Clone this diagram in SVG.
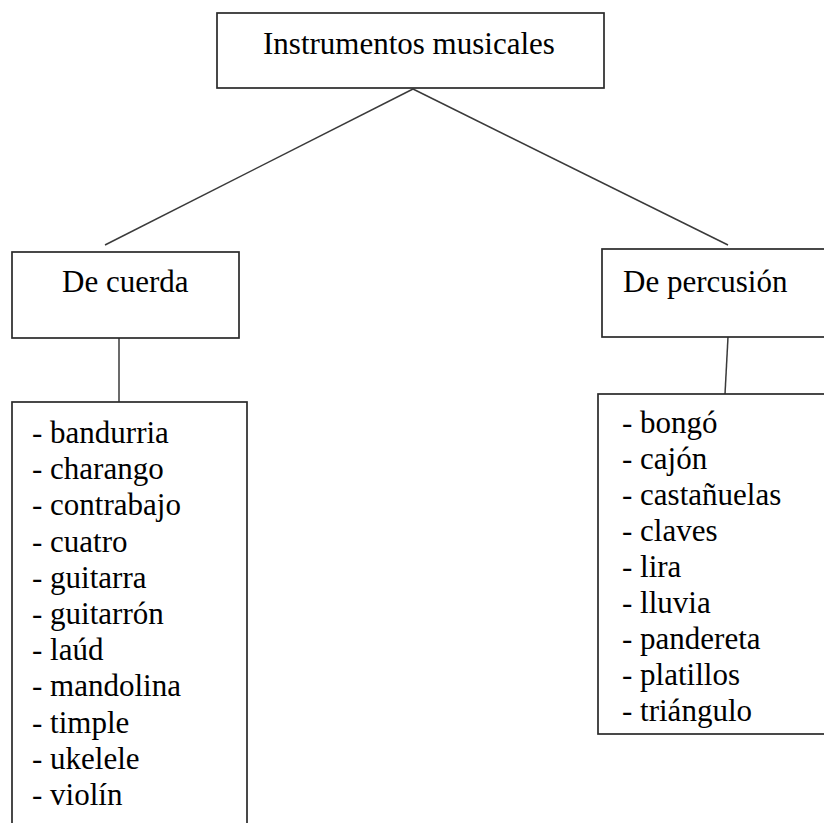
<svg xmlns="http://www.w3.org/2000/svg" width="824" height="823" viewBox="0 0 824 823">
<style>
.box{fill:#fff;stroke:#2a2a2a;stroke-width:1.7}
.ln{stroke:#3a3a3a;stroke-width:1.5;fill:none}
.t{font-family:'Liberation Serif','Times New Roman','DejaVu Serif',serif;font-size:31px;fill:#000}
</style>
<rect width="824" height="823" fill="#fff"/>
<g id="connectors">
<line class="ln" x1="413" y1="89" x2="105" y2="245"/>
<line class="ln" x1="413" y1="89" x2="728" y2="245"/>
<line class="ln" x1="119" y1="338" x2="119" y2="402"/>
<line class="ln" x1="728" y1="337" x2="725" y2="394"/>
</g>
<g id="root">
<rect class="box" x="217" y="13" width="387" height="75"/>
<text class="t" x="263" y="54">Instrumentos musicales</text>
</g>
<g id="cuerda">
<rect class="box" x="12" y="252" width="227" height="86"/>
<text class="t" x="62" y="292">De cuerda</text>
</g>
<g id="percusion">
<rect class="box" x="602" y="249" width="240" height="88"/>
<text class="t" x="623" y="292">De percusión</text>
</g>
<g id="cuerda-list" class="t">
<rect class="box" x="12" y="402" width="235" height="440"/>
<text x="32" y="443">- bandurria</text>
<text x="32" y="479">- charango</text>
<text x="32" y="515">- contrabajo</text>
<text x="32" y="552">- cuatro</text>
<text x="32" y="588">- guitarra</text>
<text x="32" y="624">- guitarrón</text>
<text x="32" y="660">- laúd</text>
<text x="32" y="696">- mandolina</text>
<text x="32" y="733">- timple</text>
<text x="32" y="769">- ukelele</text>
<text x="32" y="805">- violín</text>
</g>
<g id="percusion-list" class="t">
<rect class="box" x="598" y="394" width="240" height="340"/>
<text x="622" y="433">- bongó</text>
<text x="622" y="469">- cajón</text>
<text x="622" y="505">- castañuelas</text>
<text x="622" y="541">- claves</text>
<text x="622" y="577">- lira</text>
<text x="622" y="613">- lluvia</text>
<text x="622" y="649">- pandereta</text>
<text x="622" y="685">- platillos</text>
<text x="622" y="721">- triángulo</text>
</g>
</svg>
